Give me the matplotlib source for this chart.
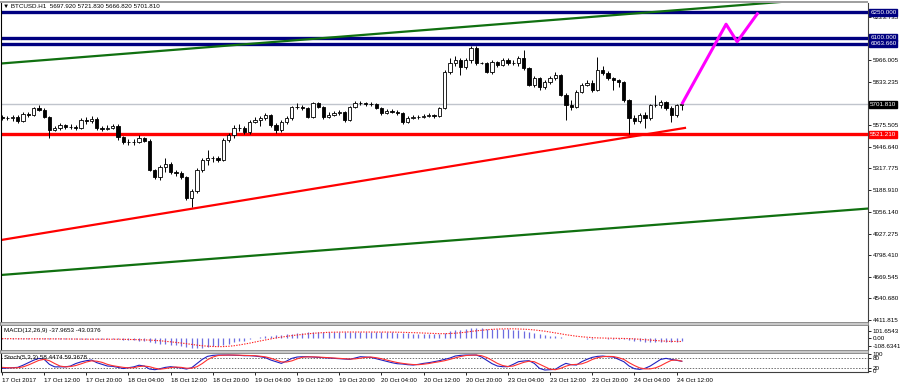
import matplotlib
matplotlib.use("Agg")
import matplotlib.pyplot as plt
from matplotlib.patches import Rectangle
import numpy as np

plt.rcParams['font.family'] = ['Liberation Sans', 'DejaVu Sans']

# ---- data (BTCUSD H1) ----
opens = [5625, 5619, 5619, 5625, 5601, 5643, 5637, 5679, 5667, 5625, 5548, 5560, 5577, 5566, 5566, 5560,
         5607, 5601, 5613, 5560, 5556, 5562, 5572, 5506, 5476, 5474, 5478, 5500, 5482, 5308, 5267, 5326,
         5344, 5297, 5291, 5267, 5141, 5183, 5308, 5368, 5380, 5382, 5368, 5488, 5518, 5560, 5562, 5536,
         5595, 5607, 5619, 5637, 5577, 5548, 5595, 5619, 5685, 5687, 5679, 5625, 5709, 5685, 5625, 5637,
         5649, 5655, 5607, 5685, 5709, 5707, 5703, 5701, 5679, 5649, 5661, 5655, 5649, 5595, 5619, 5625,
         5623, 5631, 5637, 5633, 5679, 5894, 5948, 5966, 5924, 5966, 6038, 5948, 5946, 5894, 5954, 5936,
         5966, 5948, 5950, 5978, 5918, 5817, 5858, 5805, 5834, 5858, 5876, 5757, 5697, 5685, 5775, 5817,
         5829, 5787, 5906, 5888, 5858, 5846, 5834, 5727, 5619, 5601, 5637, 5619, 5697, 5695, 5715, 5679,
         5637, 5697.92]
closes = [5619, 5619, 5625, 5601, 5643, 5637, 5679, 5667, 5625, 5548, 5560, 5577, 5566, 5566, 5560, 5607,
          5601, 5613, 5560, 5556, 5562, 5572, 5506, 5476, 5474, 5478, 5500, 5482, 5308, 5267, 5326, 5344,
          5297, 5291, 5267, 5141, 5183, 5308, 5368, 5380, 5382, 5368, 5488, 5518, 5560, 5562, 5536, 5595,
          5607, 5619, 5637, 5577, 5548, 5595, 5619, 5685, 5687, 5679, 5625, 5709, 5685, 5625, 5637, 5649,
          5655, 5607, 5685, 5709, 5707, 5703, 5701, 5679, 5649, 5661, 5655, 5649, 5595, 5619, 5625, 5623,
          5631, 5637, 5633, 5679, 5894, 5948, 5966, 5924, 5966, 6038, 5948, 5946, 5894, 5954, 5936, 5966,
          5948, 5950, 5978, 5918, 5817, 5858, 5805, 5834, 5858, 5876, 5757, 5697, 5685, 5775, 5817, 5829,
          5787, 5906, 5888, 5858, 5846, 5834, 5727, 5619, 5601, 5637, 5619, 5697, 5695, 5715, 5679, 5637,
          5697.92, 5701.81]
highs = [5637, 5631, 5637, 5637, 5655, 5655, 5685, 5697, 5679, 5631, 5572, 5589, 5583, 5583, 5577, 5619,
         5625, 5631, 5625, 5572, 5577, 5583, 5583, 5512, 5494, 5494, 5518, 5506, 5494, 5314, 5338, 5380,
         5356, 5308, 5302, 5273, 5195, 5320, 5380, 5428, 5392, 5392, 5500, 5530, 5577, 5583, 5572, 5607,
         5625, 5631, 5649, 5643, 5589, 5607, 5631, 5691, 5709, 5697, 5685, 5715, 5715, 5691, 5655, 5661,
         5667, 5661, 5691, 5721, 5721, 5715, 5715, 5709, 5685, 5673, 5673, 5667, 5655, 5631, 5637, 5637,
         5643, 5649, 5643, 5685, 5906, 5978, 5990, 5978, 5978, 6050, 6050, 5954, 5954, 5966, 5960, 5978,
         5978, 5966, 5990, 6026, 5924, 5870, 5864, 5846, 5870, 5894, 5882, 5769, 5727, 5787, 5829, 5846,
         5846, 5984, 5930, 5900, 5864, 5852, 5840, 5733, 5637, 5649, 5655, 5703, 5757, 5727, 5721, 5691,
         5703, 5721.83]
lows = [5607, 5607, 5601, 5589, 5595, 5625, 5631, 5661, 5619, 5500, 5542, 5548, 5554, 5554, 5548, 5554,
        5583, 5589, 5548, 5542, 5548, 5554, 5488, 5464, 5458, 5458, 5470, 5476, 5302, 5255, 5249, 5297,
        5285, 5273, 5255, 5129, 5087, 5171, 5297, 5338, 5356, 5356, 5362, 5476, 5500, 5542, 5524, 5524,
        5589, 5572, 5607, 5566, 5530, 5536, 5583, 5607, 5673, 5667, 5619, 5619, 5679, 5613, 5619, 5631,
        5637, 5595, 5601, 5679, 5697, 5691, 5691, 5673, 5637, 5643, 5649, 5637, 5583, 5589, 5613, 5613,
        5619, 5625, 5619, 5625, 5673, 5882, 5930, 5876, 5912, 5948, 5936, 5942, 5888, 5882, 5924, 5930,
        5936, 5936, 5930, 5906, 5811, 5805, 5787, 5793, 5823, 5846, 5751, 5607, 5667, 5679, 5769, 5811,
        5775, 5781, 5876, 5846, 5787, 5805, 5715, 5524, 5583, 5589, 5560, 5607, 5685, 5679, 5667, 5595,
        5625, 5666.82]

macd = [-6, -8, -8, -10, -8, -6, -4, -3, -4, -8, -10, -12, -12, -13, -14, -12, -10, -10, -12, -13, -14, -14, -16, -20,
        -22, -26, -30, -34, -48, -62, -72, -80, -88, -94, -100, -115, -128, -130, -125, -118, -110, -100, -85, -70, -55, -42, -30, -15,
        0, 12, 25, 32, 38, 45, 52, 60, 70, 76, 80, 86, 90, 88, 86, 84, 82, 80, 82, 85, 87, 87, 86, 84,
        82, 80, 78, 75, 70, 67, 64, 62, 60, 58, 56, 58, 75, 92, 105, 115, 122, 132, 136, 134, 130, 128, 125, 122,
        118, 112, 105, 96, 85, 72, 58, 45, 35, 25, 15, 8, 3, 0, -2, -3, -3, -2, -2, -3, -4, -5, -8, -18,
        -32, -42, -48, -50, -50, -48, -47, -48, -44, -38]
macd_signal = [-4, -5, -6, -6, -7, -7, -7, -6, -6, -6, -7, -8, -9, -10, -11, -12, -12, -12, -12, -12, -12, -13, -13, -14,
               -15, -17, -19, -21, -24, -28, -33, -40, -47, -55, -63, -72, -82, -92, -100, -106, -110, -112, -111, -107, -100, -90, -78, -65,
               -50, -36, -22, -8, 5, 16, 26, 36, 44, 52, 60, 66, 72, 76, 80, 82, 83, 84, 84, 84, 84, 84, 84, 84,
               84, 84, 83, 82, 80, 78, 76, 73, 70, 67, 64, 62, 62, 64, 68, 74, 82, 92, 100, 108, 115, 120, 124, 126,
               127, 127, 125, 122, 118, 112, 104, 95, 84, 72, 60, 48, 38, 28, 20, 14, 9, 5, 3, 1, 0, -1, -2, -4,
               -8, -13, -19, -25, -30, -35, -39, -42, -43, -43]
stoch_main = [16, 18, 20, 22, 35, 50, 65, 76, 70, 40, 25, 25, 25, 30, 45, 55, 62, 66, 50, 40, 30, 28, 22, 15,
              20, 25, 35, 30, 12, 8, 14, 22, 26, 22, 18, 12, 20, 45, 70, 88, 94, 96, 96, 96, 95, 94, 92, 92,
              90, 86, 80, 66, 56, 46, 60, 76, 84, 86, 86, 84, 82, 80, 78, 76, 74, 72, 70, 78, 86, 84, 82, 74,
              66, 58, 50, 44, 42, 38, 36, 40, 46, 50, 56, 62, 70, 78, 90, 94, 96, 96, 96, 84, 64, 44, 30, 26,
              26, 40, 56, 60, 62, 46, 16, 6, 8, 10, 30, 46, 38, 36, 56, 70, 82, 88, 90, 86, 84, 70, 56, 30,
              14, 10, 16, 30, 50, 70, 76, 70, 64, 58.4474]
stoch_signal = [22, 20, 19, 20, 25, 36, 50, 64, 70, 62, 45, 30, 25, 27, 33, 43, 54, 61, 59, 52, 40, 32, 27, 22,
                19, 20, 27, 30, 26, 17, 11, 15, 21, 24, 22, 17, 17, 26, 45, 68, 84, 93, 95, 96, 96, 95, 94, 93,
                92, 89, 85, 77, 66, 55, 54, 61, 73, 83, 85, 85, 84, 82, 80, 78, 76, 74, 72, 73, 77, 82, 84, 80,
                74, 66, 58, 51, 46, 42, 39, 38, 41, 45, 51, 56, 62, 70, 79, 87, 93, 95, 96, 92, 81, 64, 46, 33,
                27, 30, 41, 52, 59, 56, 41, 26, 11, 8, 16, 29, 38, 40, 43, 54, 69, 80, 86, 88, 87, 80, 70, 50,
                33, 19, 13, 13, 19, 32, 49, 64, 66, 59.3678]

time_labels = ['17 Oct 2017', '17 Oct 12:00', '17 Oct 20:00', '18 Oct 04:00', '18 Oct 12:00', '18 Oct 20:00',
               '19 Oct 04:00', '19 Oct 12:00', '19 Oct 20:00', '20 Oct 04:00', '20 Oct 12:00', '20 Oct 20:00',
               '23 Oct 04:00', '23 Oct 12:00', '23 Oct 20:00', '24 Oct 04:00', '24 Oct 12:00']

price_ticks = [6223.735, 5966.005, 5833.235, 5575.505, 5446.640, 5317.775, 5188.910,
               5056.140, 4927.275, 4798.410, 4669.545, 4540.680, 4411.815]
# horizontal levels: price, colour
levels = [(6250.000, '#000080'), (6100.000, '#000080'), (6063.660, '#000080'), (5521.210, '#ff0000')]
bid = 5701.810

# trendlines (bar index, price)
green_up = ([-0.2, 151.4], [5945, 6322])
green_low = ([-0.2, 164.3], [4681, 5078])
red_trend = ([-0.2, 129.6], [4890, 5560])
# projected path
zig_x = [129, 137.4, 139.5, 143.5]
zig_y = [5702, 6180, 6075, 6250]

n = len(closes)
idx = np.arange(n)

W, H = 900, 387
def rect(x0, y0, x1, y1):
    return [x0 / W, 1 - y1 / H, (x1 - x0) / W, (y1 - y0) / H]

fig = plt.figure(figsize=(9, 3.87), dpi=100)
ax = fig.add_axes(rect(1, 3, 868, 322))
ax_m = fig.add_axes(rect(1, 325, 868, 350), sharex=ax)
ax_s = fig.add_axes(rect(1, 353, 868, 372), sharex=ax)

FS = 4.5

# ---- main price panel ----
for lv, col in levels:
    ax.axhline(lv, color=col, lw=2.4, zorder=2)
ax.axhline(bid, color='#c0c4cc', lw=1, zorder=1)
ax.plot(*green_up, color='#107010', lw=1.6, zorder=2)
ax.plot(*green_low, color='#107010', lw=1.6, zorder=2)
ax.plot(*red_trend, color='#ff0000', lw=1.6, zorder=2)

o = np.array(opens); c = np.array(closes)
up = c >= o
ax.vlines(idx, lows, highs, color='black', lw=0.7, zorder=3)
ax.bar(idx[up], (c - o)[up], bottom=o[up], width=0.62, color='white', edgecolor='black', lw=0.6, zorder=4)
ax.bar(idx[~up], (c - o)[~up], bottom=o[~up], width=0.62, color='black', edgecolor='black', lw=0.6, zorder=4)
ax.plot(zig_x, zig_y, color='#ff00ff', lw=2.2, zorder=5, solid_capstyle='butt')

ax.set_xlim(-0.19, 164.33)
ax.set_ylim(4400.0, 6306.7)
ax.yaxis.tick_right()
ax.set_yticks(price_ticks)
ax.set_yticklabels(['%.3f' % p for p in price_ticks])

for lv, col in levels[:3] + [(bid, 'black'), levels[3]]:
    ax.text(1.0025, lv, '%.3f' % lv, transform=ax.get_yaxis_transform(), fontsize=FS, color='white',
            va='center', ha='left', bbox=dict(boxstyle='square,pad=0.15', fc=col, ec=col), clip_on=False)

fig.text(3 / W, 1 - 6 / H, '\u25bc BTCUSD.H1  5697.920 5721.830 5666.820 5701.810', fontsize=FS,
         va='center', ha='left', color='black')

# ---- MACD ----
ax_m.vlines(idx, 0, macd, color='#6c6ce0', lw=0.9)
ax_m.plot(idx, macd_signal, color='#ff2020', lw=0.8, ls=(0, (1.2, 1.2)))
ax_m.set_ylim(-157, 178)
ax_m.yaxis.tick_right()
ax_m.set_yticks([101.6543, 0, -108.6341])
ax_m.set_yticklabels(['101.6543', '0.00', '-108.6341'])
ax_m.text(3 / 867, 0.78, 'MACD(12,26,9) -37.9653 -43.0376', transform=ax_m.transAxes, fontsize=FS,
          va='center', ha='left')

# ---- Stochastic ----
for lv in (80, 20):
    ax_s.axhline(lv, color='#707070', lw=0.7, ls=(0, (1.5, 1.5)))
ax_s.plot(idx, stoch_main, color='#2020c0', lw=0.8)
ax_s.plot(idx, stoch_signal, color='#ff3030', lw=0.8)
ax_s.set_ylim(-5.8, 108.2)
ax_s.yaxis.tick_right()
ax_s.set_yticks([100, 80, 20, 0])
ax_s.set_yticklabels(['100', '80', '20', '0'])
ax_s.text(3 / 867, 0.74, 'Stoch(5,3,3) 58.4474 59.3678', transform=ax_s.transAxes, fontsize=FS,
          va='center', ha='left')

tick_pos = np.arange(len(time_labels)) * 8
ax_s.set_xticks(tick_pos)
ax_s.set_xticklabels(time_labels)
for lab in ax_s.get_xticklabels():
    lab.set_horizontalalignment('left')

for a in (ax, ax_m, ax_s):
    for s in ('top', 'bottom'):
        a.spines[s].set_visible(False)
    a.spines['left'].set_color('black')
    a.spines['left'].set_linewidth(0.8)
    a.spines['right'].set_color('#404040')
    a.spines['right'].set_linewidth(0.8)
    a.tick_params(axis='y', labelsize=FS, length=2, width=0.6, pad=1.5, colors='black')
    a.tick_params(axis='x', labelsize=FS, length=2.5, width=0.6, pad=2)
ax.tick_params(axis='x', bottom=False, labelbottom=False)
ax_m.tick_params(axis='x', bottom=False, labelbottom=False)
ax_s.spines['bottom'].set_visible(True)
ax_s.spines['bottom'].set_color('#404040')
ax_s.spines['bottom'].set_linewidth(0.8)

# window separators
for y0, y1 in ((322, 325), (350, 353)):
    fig.patches.append(Rectangle((0, 1 - y1 / H), 868 / W, (y1 - y0) / H, transform=fig.transFigure,
                                 fc='#c8c8c8', ec='#808080', lw=0.6))
fig.patches.append(Rectangle((0, 1 - 3 / H), 868 / W, 1.5 / H, transform=fig.transFigure,
                             fc='#a0a0a0', ec='none'))

fig.savefig('out.png', dpi=100)
